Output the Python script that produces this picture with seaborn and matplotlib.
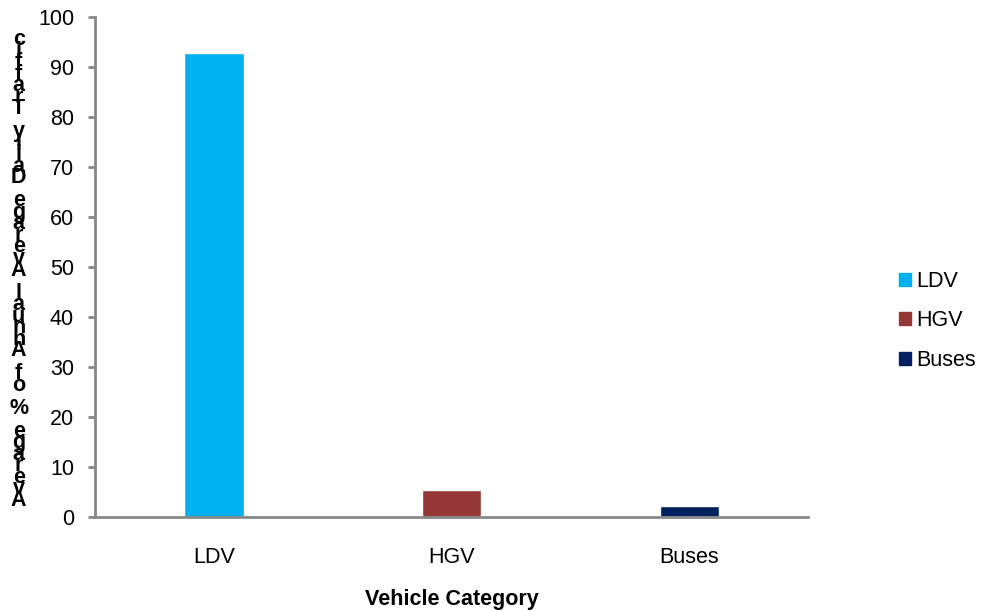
import matplotlib
matplotlib.use("Agg")
import matplotlib.pyplot as plt
import seaborn as sns
import pandas as pd

# ── Données ───────────────────────────────────────────────────
categories = ["LDV", "HGV", "Buses"]
values = [92.8, 5.3, 2.1]
colors = ["#00B0F0", "#953735", "#002060"]
y_label = "Average % of Annual Average Daily Traffic"
x_label = "Vehicle Category"

df = pd.DataFrame({"cat": categories, "val": values})

sns.set_theme(style="white")
plt.rcParams["font.family"] = ["Liberation Sans", "DejaVu Sans"]
plt.rcParams["text.color"] = "black"

fig = plt.figure(figsize=(9.84, 6.11), dpi=100)
ax = fig.add_axes([0.0965, 0.154, 0.725, 0.818])

sns.barplot(data=df, x="cat", y="val", hue="cat", palette=colors,
            dodge=False, width=0.25, ax=ax, legend=False, saturation=1)

ax.set_ylim(0, 100)
ax.set_xlim(-0.5, 2.5)
ax.set_yticks(range(0, 101, 10))
ax.tick_params(axis="y", labelsize=15.5, left=True, length=5, color="#888888", width=2,
               pad=10, labelcolor="black")
ax.tick_params(axis="x", labelsize=15.5, bottom=False, pad=16, labelcolor="black")
ax.set_xlabel(x_label, fontsize=15.5, fontweight="bold", labelpad=15, color="black")
ax.set_ylabel("")
for s in ["top", "right"]:
    ax.spines[s].set_visible(False)
for s in ["left", "bottom"]:
    ax.spines[s].set_color("#888888")
    ax.spines[s].set_linewidth(2)

# Étiquette Y empilée lettre par lettre (de bas en haut, lettres serrées)
y_bas, y_haut = 1 - 498 / 611, 1 - 37 / 611
pas = (y_haut - y_bas) / (len(y_label) - 1)
for i, ch in enumerate(y_label):
    fig.text(0.019, y_bas + i * pas, ch, ha="center", va="center_baseline",
             fontsize=15.5, fontweight="bold")

# Légende
handles = [plt.Rectangle((0, 0), 1, 1, color=c) for c in colors]
ax.legend(handles, categories, loc="center left", bbox_to_anchor=(1.112, 0.392),
          frameon=False, fontsize=15.5, handlelength=0.55, handleheight=0.55,
          labelspacing=0.85, handletextpad=0.25, borderpad=0)

fig.savefig("out.png", dpi=100)
